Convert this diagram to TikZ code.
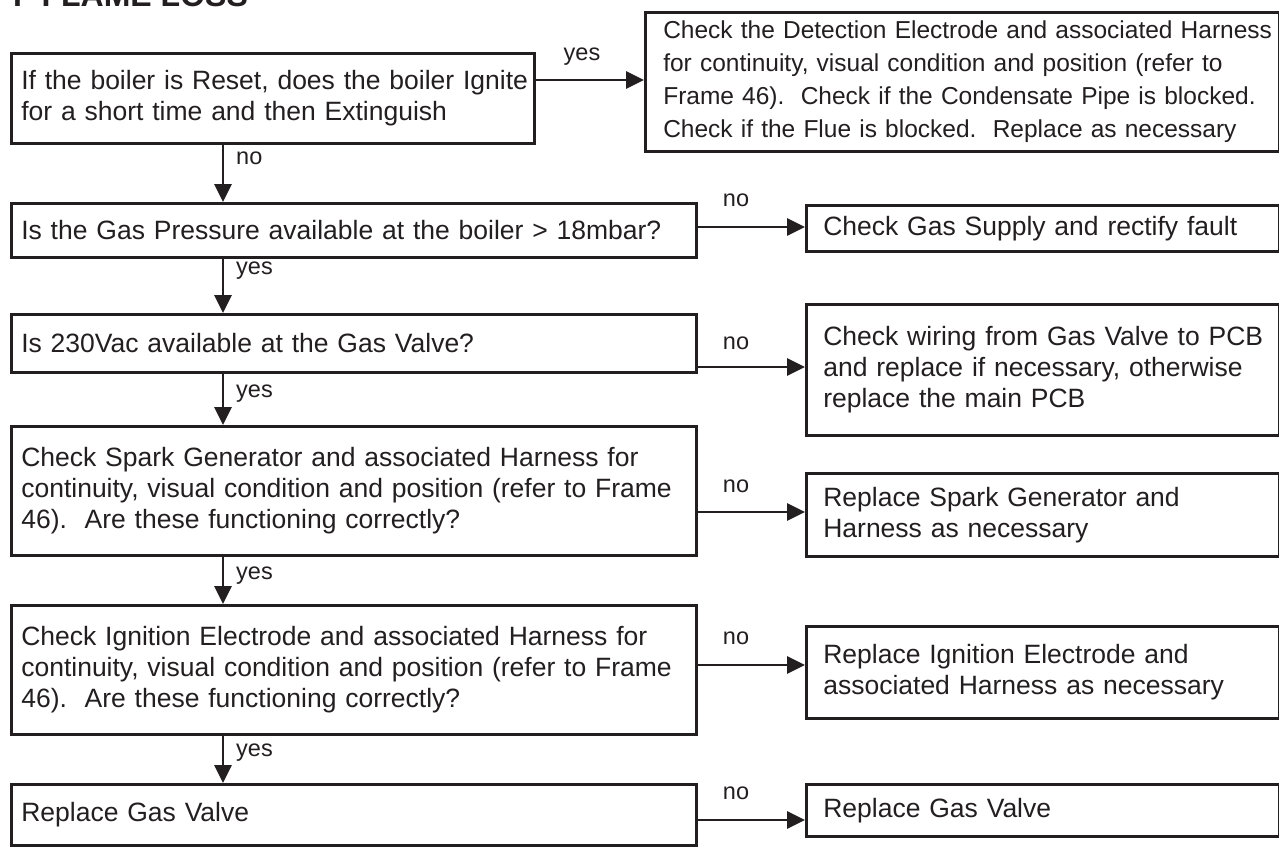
\documentclass[tikz,border=0pt]{standalone}
\usepackage{fontspec}
\setmainfont{Liberation Sans}
\usetikzlibrary{arrows.meta}
\definecolor{ink}{HTML}{231F20}
\frenchspacing
\begin{document}
\begin{tikzpicture}[x=1pt,y=-1pt,
  box/.style={draw=ink, line width=2.6pt, rectangle, anchor=north west, inner ysep=0pt,
    align=left, text=ink, font=\fontsize{26.5}{31}\selectfont},
  lbox/.style={box, inner xsep=10pt},
  rbox/.style={box, inner xsep=17pt},
  arr/.style={draw=ink, line width=2.8pt, -{Triangle[length=18pt,width=17pt]}},
  lab/.style={font=\fontsize{23.5}{28}\selectfont, text=ink, inner sep=0pt},
  title/.style={font=\fontsize{32}{36}\selectfont\bfseries, text=ink, inner sep=0pt, anchor=base west}]
\clip (0,0) rectangle (1279,847);
\fill[white] (0,0) rectangle (1279,847);

\node[title] (T) at (13,6) {F FLAME LOSS};

% left column
\node[lbox, text width=503pt, minimum height=90pt] (B1) at (10,52)
  {\mbox{If the boiler is Reset, does the boiler Ignite}\\\mbox{for a short time and then Extinguish}};
\node[lbox, text width=665pt, minimum height=54pt] (B2) at (10,202)
  {\mbox{Is the Gas Pressure available at the boiler > 18mbar?}};
\node[lbox, text width=665pt, minimum height=58pt] (B3) at (10,313)
  {\mbox{Is 230Vac available at the Gas Valve?}};
\node[lbox, text width=665pt, minimum height=129pt] (B4) at (10,425)
  {\mbox{Check Spark Generator and associated Harness for}\\\mbox{continuity, visual condition and position (refer to Frame}\\\mbox{46).\ \ Are these functioning correctly?}};
\node[lbox, text width=665pt, minimum height=129pt] (B5) at (10,604)
  {\mbox{Check Ignition Electrode and associated Harness for}\\\mbox{continuity, visual condition and position (refer to Frame}\\\mbox{46).\ \ Are these functioning correctly?}};
\node[lbox, text width=665pt, minimum height=61pt] (B6) at (10,783)
  {\mbox{Replace Gas Valve}};

% right column
\node[box, inner xsep=18pt, text width=598pt, minimum height=139pt,
  font=\fontsize{24.5}{33}\selectfont] (R1) at (644,11)
  {\mbox{Check the Detection Electrode and associated Harness}\\\mbox{for continuity, visual condition and position (refer to}\\\mbox{Frame 46).\ \ Check if the Condensate Pipe is blocked.}\\\mbox{Check if the Flue is blocked.\ \ Replace as necessary}};
\node[rbox, text width=439pt, minimum height=46pt] (R2) at (805,204)
  {\mbox{Check Gas Supply and rectify fault}};
\node[rbox, text width=439pt, minimum height=131pt] (R3) at (805,303)
  {\mbox{Check wiring from Gas Valve to PCB}\\\mbox{and replace if necessary, otherwise}\\\mbox{replace the main PCB}};
\node[rbox, text width=439pt, minimum height=83pt] (R4) at (805,472)
  {\mbox{Replace Spark Generator and}\\\mbox{Harness as necessary}};
\node[rbox, text width=439pt, minimum height=92pt] (R5) at (805,625)
  {\mbox{Replace Ignition Electrode and}\\\mbox{associated Harness as necessary}};
\node[rbox, text width=439pt, minimum height=52pt] (R6) at (805,783)
  {\mbox{Replace Gas Valve}};

% guide coordinates
\coordinate (ax) at (223,0);
\coordinate (h1) at (0,80);
\coordinate (h2) at (0,227);
\coordinate (h3) at (0,367);
\coordinate (h4) at (0,512);
\coordinate (h5) at (0,665);
\coordinate (h6) at (0,820);

% vertical connectors
\draw[arr] (B1.south -| ax) -- (B2.north -| ax);
\draw[arr] (B2.south -| ax) -- (B3.north -| ax);
\draw[arr] (B3.south -| ax) -- (B4.north -| ax);
\draw[arr] (B4.south -| ax) -- (B5.north -| ax);
\draw[arr] (B5.south -| ax) -- (B6.north -| ax);

% horizontal connectors
\draw[arr] (B1.east |- h1) -- (R1.west |- h1);
\draw[arr] (B2.east |- h2) -- (R2.west |- h2);
\draw[arr] (B3.east |- h3) -- (R3.west |- h3);
\draw[arr] (B4.east |- h4) -- (R4.west |- h4);
\draw[arr] (B5.east |- h5) -- (R5.west |- h5);
\draw[arr] (B6.east |- h6) -- (R6.west |- h6);

% labels
\node[lab] (L1) at (582,57) {yes};
\node[lab, anchor=west] (L2) at (236,158) {no};
\node[lab, anchor=west] (L3) at (236,271) {yes};
\node[lab, anchor=west] (L4) at (236,394) {yes};
\node[lab, anchor=west] (L5) at (236,576) {yes};
\node[lab, anchor=west] (L6) at (236,753) {yes};
\node[lab] (N2) at (736,200) {no};
\node[lab] (N3) at (736,343) {no};
\node[lab] (N4) at (736,486) {no};
\node[lab] (N5) at (736,638) {no};
\node[lab] (N6) at (736,793) {no};
\end{tikzpicture}
\end{document}
